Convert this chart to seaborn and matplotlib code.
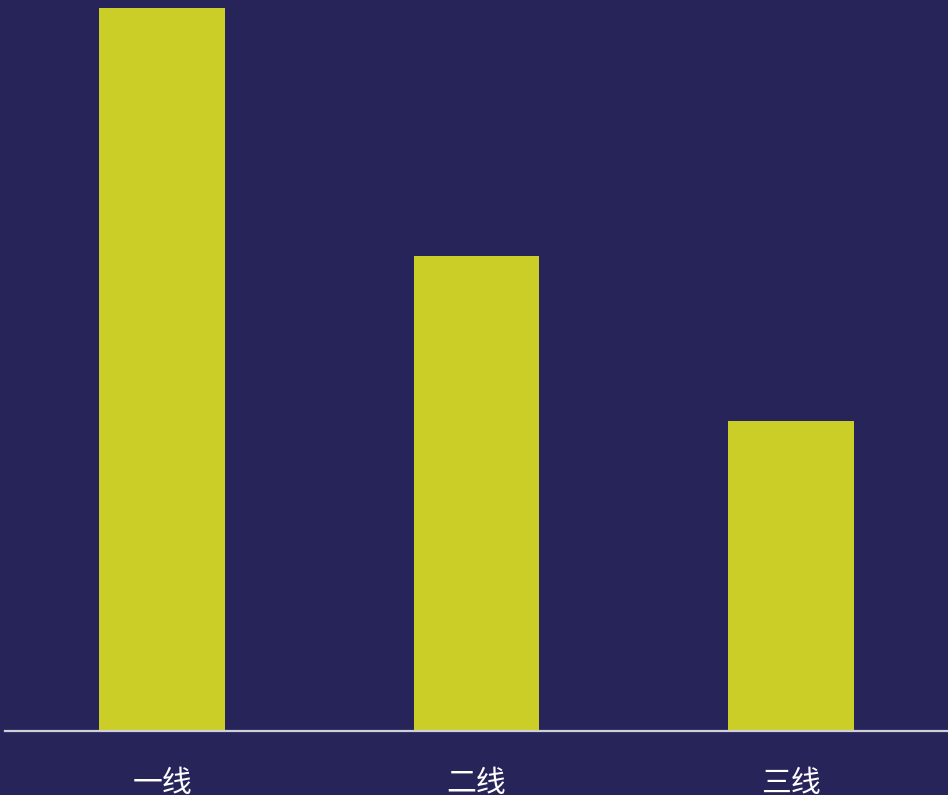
import matplotlib
matplotlib.use("Agg")
import matplotlib.pyplot as plt
import seaborn as sns
import pandas as pd

categories = ["一线", "二线", "三线"]
values = [70, 46, 30]

sns.set_theme(style="white")
plt.rcParams['font.family'] = ['Noto Sans CJK SC', 'DejaVu Sans']

bg = "#27245A"
bar_color = "#CBCE26"

fig = plt.figure(figsize=(9.48, 7.95), dpi=100, facecolor=bg)
ax = fig.add_axes([5/948, (795-731)/795, 943/948, (731-8)/795])
ax.set_facecolor(bg)

df = pd.DataFrame({"cat": categories, "val": values})
sns.barplot(data=df, x="cat", y="val", color=bar_color, saturation=1, width=0.4,
            linewidth=0, edgecolor="none", ax=ax)

ax.set_xlim(-0.5, 2.5)
ax.set_ylim(0, 70)
ax.set_xlabel("")
ax.set_ylabel("")
ax.set_yticks([])
for s in ["top", "right", "left"]:
    ax.spines[s].set_visible(False)
ax.spines["bottom"].set_color("#D0D0D8")
ax.spines["bottom"].set_linewidth(1.6)
ax.spines["bottom"].set_zorder(5)
ax.tick_params(axis="x", length=0, pad=27, labelsize=21.5, labelcolor="white")

fig.savefig("out.png", dpi=100, facecolor=bg)
